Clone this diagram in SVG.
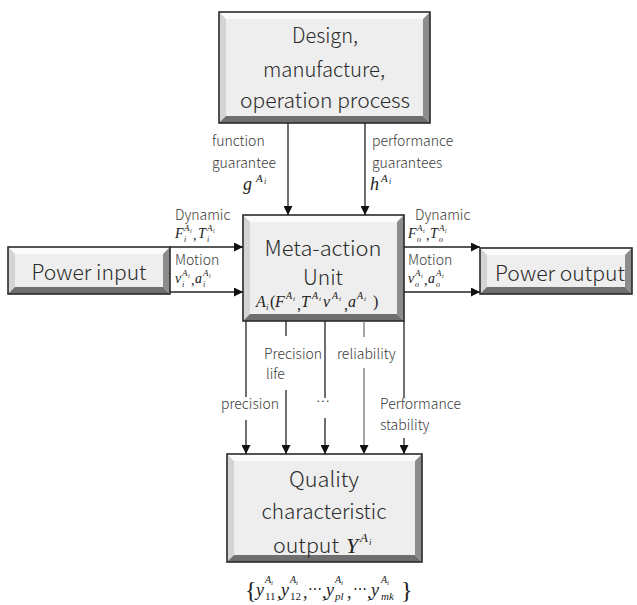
<svg xmlns="http://www.w3.org/2000/svg" width="637" height="605" viewBox="0 0 637 605">
<style>
.face{fill:#eeeeee}
.bt{fill:#fbfbfb}
.bl{fill:#d4d4d4}
.br{fill:#8c8c8c}
.bb{fill:#6f6f6f}
.ol{fill:none;stroke:#2a2a2a;stroke-width:1.6}
.big{font-family:"Noto Sans CJK SC","Noto Sans",sans-serif;font-weight:300;font-size:21px;fill:#2b2b2b;text-anchor:middle}
.sm{font-family:"Noto Sans CJK SC","Noto Sans",sans-serif;font-weight:300;font-size:14px;fill:#3a3a3a}
.m{font-family:"Liberation Serif","DejaVu Serif",serif;font-style:italic;fill:#222}
.c{stroke:#222;stroke-width:1.3;fill:none}
.cl{stroke:#777;stroke-width:1.3;fill:none}
</style>
<defs>
<marker id="ah" markerUnits="userSpaceOnUse" markerWidth="10" markerHeight="9" refX="9" refY="4.5" orient="auto">
<path d="M0,0 L9,4.5 L0,9 Z" fill="#111"/>
</marker>
</defs>
<rect width="637" height="605" fill="#ffffff"/>

<g id="design">
<rect class="face" x="226" y="19" width="197" height="97"/>
<polygon class="bt" points="219,12 430,12 423,19 226,19"/>
<polygon class="bl" points="219,12 226,19 226,116 219,123"/>
<polygon class="br" points="430,12 430,123 423,116 423,19"/>
<polygon class="bb" points="219,123 430,123 423,116 226,116"/>
<rect class="ol" x="219" y="12" width="211" height="111"/>
<text class="big" x="325" y="43" textLength="66" lengthAdjust="spacingAndGlyphs">Design,</text>
<text class="big" x="324" y="77" textLength="122" lengthAdjust="spacingAndGlyphs">manufacture,</text>
<text class="big" x="325" y="108" textLength="170" lengthAdjust="spacingAndGlyphs">operation process</text>
</g>

<g id="meta">
<rect class="face" x="250" y="222" width="147" height="92"/>
<polygon class="bt" points="243,215 404,215 397,222 250,222"/>
<polygon class="bl" points="243,215 250,222 250,314 243,321"/>
<polygon class="br" points="404,215 404,321 397,314 397,222"/>
<polygon class="bb" points="243,321 404,321 397,314 250,314"/>
<rect class="ol" x="243" y="215" width="161" height="106"/>
<text class="big" x="323" y="256" font-size="19" textLength="117" lengthAdjust="spacingAndGlyphs">Meta-action</text>
<text class="big" x="323" y="285" font-size="19" textLength="40" lengthAdjust="spacingAndGlyphs">Unit</text>
<text class="m" font-size="16"><tspan x="256" y="307">A</tspan><tspan x="266" y="310" font-size="9">i</tspan><tspan x="270" y="307" font-style="normal">(</tspan><tspan x="275" y="307">F</tspan><tspan x="286" y="299" font-size="10">A</tspan><tspan x="293" y="301" font-size="7">i</tspan><tspan x="297" y="310" font-style="normal">,</tspan><tspan x="301" y="307">T</tspan><tspan x="312" y="299" font-size="10">A</tspan><tspan x="319" y="301" font-size="7">i</tspan><tspan x="323" y="307">v</tspan><tspan x="332" y="299" font-size="10">A</tspan><tspan x="339" y="301" font-size="7">i</tspan><tspan x="344" y="310" font-style="normal">,</tspan><tspan x="348" y="307">a</tspan><tspan x="357" y="299" font-size="10">A</tspan><tspan x="364" y="301" font-size="7">i</tspan><tspan x="373" y="307" font-style="normal">)</tspan></text>
</g>

<g id="power-input">
<rect class="face" x="15" y="254" width="148" height="33"/>
<polygon class="bt" points="8,247 170,247 163,254 15,254"/>
<polygon class="bl" points="8,247 15,254 15,287 8,294"/>
<polygon class="br" points="170,247 170,294 163,287 163,254"/>
<polygon class="bb" points="8,294 170,294 163,287 15,287"/>
<rect class="ol" x="8" y="247" width="162" height="47"/>
<text class="big" x="89" y="280" textLength="115" lengthAdjust="spacingAndGlyphs">Power input</text>
</g>

<g id="power-output">
<rect class="face" x="487" y="255" width="138" height="32"/>
<polygon class="bt" points="480,248 632,248 625,255 487,255"/>
<polygon class="bl" points="480,248 487,255 487,287 480,294"/>
<polygon class="br" points="632,248 632,294 625,287 625,255"/>
<polygon class="bb" points="480,294 632,294 625,287 487,287"/>
<rect class="ol" x="480" y="248" width="152" height="46"/>
<text class="big" x="560" y="281" textLength="130" lengthAdjust="spacingAndGlyphs">Power output</text>
</g>

<g id="quality">
<rect class="face" x="234" y="461" width="181" height="94"/>
<polygon class="bt" points="227,454 422,454 415,461 234,461"/>
<polygon class="bl" points="227,454 234,461 234,555 227,562"/>
<polygon class="br" points="422,454 422,562 415,555 415,461"/>
<polygon class="bb" points="227,562 422,562 415,555 234,555"/>
<rect class="ol" x="227" y="454" width="195" height="108"/>
<text class="big" x="324" y="487" textLength="70" lengthAdjust="spacingAndGlyphs">Quality</text>
<text class="big" x="324" y="519" textLength="125" lengthAdjust="spacingAndGlyphs">characteristic</text>
<text class="big" x="306" y="553" textLength="66" lengthAdjust="spacingAndGlyphs">output</text>
<text class="m" font-size="22"><tspan x="346" y="553">Y</tspan><tspan x="360" y="542" font-size="13">A</tspan><tspan x="369" y="545" font-size="9">i</tspan></text>
</g>

<g id="connectors">
<line class="c" x1="288" y1="123" x2="288" y2="215" marker-end="url(#ah)"/>
<line class="c" x1="365" y1="123" x2="365" y2="215" marker-end="url(#ah)"/>
<line class="c" x1="170" y1="247" x2="243" y2="247" marker-end="url(#ah)"/>
<line class="c" x1="170" y1="292" x2="243" y2="292" marker-end="url(#ah)"/>
<line class="c" x1="404" y1="247" x2="480" y2="247" marker-end="url(#ah)"/>
<line class="c" x1="404" y1="292" x2="480" y2="292" marker-end="url(#ah)"/>
<line class="c" x1="246" y1="321" x2="246" y2="397"/>
<line class="c" x1="246" y1="420" x2="246" y2="454" marker-end="url(#ah)"/>
<line class="c" x1="286" y1="321" x2="286" y2="336"/>
<line class="c" x1="286" y1="390" x2="286" y2="454" marker-end="url(#ah)"/>
<line class="c" x1="325" y1="321" x2="325" y2="398"/>
<line class="c" x1="325" y1="418" x2="325" y2="454" marker-end="url(#ah)"/>
<line class="cl" x1="364" y1="321" x2="364" y2="337"/>
<line class="cl" x1="364" y1="368" x2="364" y2="454" marker-end="url(#ah)"/>
<line class="c" x1="404" y1="321" x2="404" y2="397"/>
<line class="c" x1="404" y1="438" x2="404" y2="454" marker-end="url(#ah)"/>
</g>

<g id="labels">
<text class="sm" x="212" y="146">function</text>
<text class="sm" x="212" y="168">guarantee</text>
<text class="m" font-size="18"><tspan x="243" y="190">g</tspan><tspan x="256" y="182" font-size="11">A</tspan><tspan x="264" y="184" font-size="8">i</tspan></text>
<text class="sm" x="372" y="146">performance</text>
<text class="sm" x="372" y="168">guarantees</text>
<text class="m" font-size="18"><tspan x="370" y="190">h</tspan><tspan x="381" y="182" font-size="11">A</tspan><tspan x="389" y="184" font-size="8">i</tspan></text>

<text class="sm" x="175" y="220" font-size="13">Dynamic</text>
<text class="m" font-size="14"><tspan x="175" y="238">F</tspan><tspan x="184" y="231" font-size="9">A</tspan><tspan x="190" y="233" font-size="6">i</tspan><tspan x="184" y="242" font-size="8">i</tspan><tspan x="193" y="240" font-style="normal">,</tspan><tspan x="198" y="238">T</tspan><tspan x="207" y="231" font-size="9">A</tspan><tspan x="213" y="233" font-size="6">i</tspan><tspan x="207" y="242" font-size="8">i</tspan></text>
<text class="sm" x="175" y="265" font-size="13">Motion</text>
<text class="m" font-size="14"><tspan x="175" y="283">v</tspan><tspan x="182" y="276" font-size="9">A</tspan><tspan x="188" y="278" font-size="6">i</tspan><tspan x="182" y="287" font-size="8">i</tspan><tspan x="191" y="285" font-style="normal">,</tspan><tspan x="195" y="283">a</tspan><tspan x="203" y="276" font-size="9">A</tspan><tspan x="209" y="278" font-size="6">i</tspan><tspan x="203" y="287" font-size="8">i</tspan></text>

<text class="sm" x="415" y="220" font-size="13">Dynamic</text>
<text class="m" font-size="14"><tspan x="408" y="238">F</tspan><tspan x="417" y="231" font-size="9">A</tspan><tspan x="423" y="233" font-size="6">i</tspan><tspan x="417" y="242" font-size="8">o</tspan><tspan x="426" y="240" font-style="normal">,</tspan><tspan x="430" y="238">T</tspan><tspan x="439" y="231" font-size="9">A</tspan><tspan x="445" y="233" font-size="6">i</tspan><tspan x="439" y="242" font-size="8">o</tspan></text>
<text class="sm" x="408" y="265" font-size="13">Motion</text>
<text class="m" font-size="14"><tspan x="408" y="283">v</tspan><tspan x="415" y="276" font-size="9">A</tspan><tspan x="421" y="278" font-size="6">i</tspan><tspan x="415" y="287" font-size="8">o</tspan><tspan x="424" y="285" font-style="normal">,</tspan><tspan x="428" y="283">a</tspan><tspan x="436" y="276" font-size="9">A</tspan><tspan x="442" y="278" font-size="6">i</tspan><tspan x="436" y="287" font-size="8">o</tspan></text>

<text class="sm" x="264" y="359">Precision</text>
<text class="sm" x="266" y="379">life</text>
<text class="sm" x="337" y="359">reliability</text>
<text class="sm" x="221" y="409">precision</text>
<text class="sm" x="316" y="406">…</text>
<text class="sm" x="380" y="409">Performance</text>
<text class="sm" x="380" y="430">stability</text>

<text class="m" font-size="18"><tspan x="245" y="598" font-style="normal" font-size="24">{</tspan><tspan x="256" y="596">y</tspan><tspan x="265" y="583" font-size="10">A</tspan><tspan x="271" y="585" font-size="7">i</tspan><tspan x="265" y="600" font-size="11" font-style="normal">11</tspan><tspan x="277" y="598" font-style="normal">,</tspan><tspan x="281" y="596">y</tspan><tspan x="290" y="583" font-size="10">A</tspan><tspan x="296" y="585" font-size="7">i</tspan><tspan x="290" y="600" font-size="11" font-style="normal">12</tspan><tspan x="303" y="598" font-style="normal">,</tspan><tspan x="308" y="594" font-style="normal" font-size="14">⋯</tspan><tspan x="322" y="598" font-style="normal">,</tspan><tspan x="326" y="596">y</tspan><tspan x="335" y="583" font-size="10">A</tspan><tspan x="341" y="585" font-size="7">i</tspan><tspan x="335" y="600" font-size="11">pl</tspan><tspan x="347" y="598" font-style="normal">,</tspan><tspan x="353" y="594" font-style="normal" font-size="14">⋯</tspan><tspan x="367" y="598" font-style="normal">,</tspan><tspan x="371" y="596">y</tspan><tspan x="381" y="583" font-size="10">A</tspan><tspan x="387" y="585" font-size="7">i</tspan><tspan x="381" y="600" font-size="11">mk</tspan><tspan x="401" y="598" font-style="normal" font-size="24">}</tspan></text>
</g>
</svg>
